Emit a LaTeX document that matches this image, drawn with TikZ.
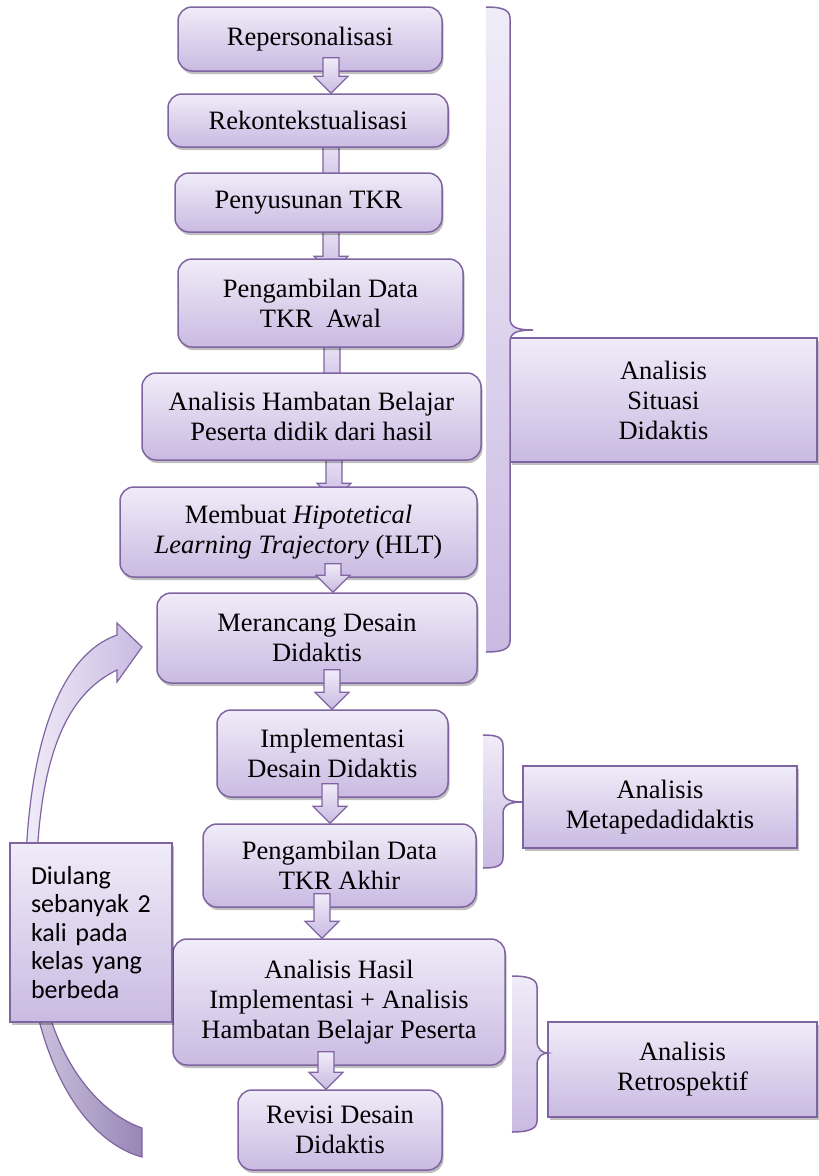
\documentclass[tikz,border=0pt]{standalone}
\usepackage{fontspec}
\setmainfont{Liberation Serif}
\newfontfamily\calibfont{Carlito}
\usepackage{tikz}
\usetikzlibrary{calc,shadows}
\definecolor{boxline}{RGB}{128,100,162}
\definecolor{boxtop}{RGB}{240,236,248}
\definecolor{boxbot}{RGB}{202,186,226}
\definecolor{loopleft}{RGB}{208,200,224}
\definecolor{loopright}{RGB}{152,134,182}
\pgfdeclarelayer{back}
\pgfsetlayers{back,main}

\tikzset{
  procbox/.style={draw=boxline, line width=1.5pt, rounded corners=14pt,
    top color=boxtop, bottom color=boxbot, align=center, inner sep=2pt,
    font=\fontsize{26.5}{30}\selectfont,
    drop shadow={shadow xshift=1.5pt, shadow yshift=-3pt, opacity=0.25, fill=black}},
  phasebox/.style={procbox, sharp corners},
  notebox/.style={phasebox, align=left, font=\calibfont\fontsize{26}{28.5}\selectfont},
  blockarrow/.style={draw=boxline, line width=1.2pt, line join=miter,
    top color=boxtop, bottom color=boxbot},
  bracefill/.style={top color=boxtop, bottom color=boxbot},
  braceline/.style={draw=boxline, line width=1.5pt},
}

% block arrow from one box down to the next: [tip below top of next box], from, to, x
\newcommand{\flowarrow}[4][0]{%
  \path[blockarrow] let \p1=(#2.south), \p2=(#3.north) in
    (#4pt-8pt,\y1+14pt) -- (#4pt+8pt,\y1+14pt) -- (#4pt+8pt,\y2-#1pt+17pt)
    -- (#4pt+17pt,\y2-#1pt+17pt) -- (#4pt,\y2-#1pt) -- (#4pt-17pt,\y2-#1pt+17pt)
    -- (#4pt-8pt,\y2-#1pt+17pt) -- cycle;}

% curly brace: x left, x line, x tip, y top, y tip, y bottom
\newcommand{\sidebrace}[6]{%
  \shade[bracefill] (#1,#4) .. controls (#1+14,#4) and (#2,#4+2) .. (#2,#4+11)
    -- (#2,#5-12) .. controls (#2,#5-3) and (#2+6,#5) .. (#3,#5)
    .. controls (#2+6,#5) and (#2,#5+3) .. (#2,#5+12)
    -- (#2,#6-11) .. controls (#2,#6-2) and (#1+14,#6) .. (#1,#6) -- cycle;
  \draw[braceline] (#1,#4) .. controls (#1+14,#4) and (#2,#4+2) .. (#2,#4+11)
    -- (#2,#5-12) .. controls (#2,#5-3) and (#2+6,#5) .. (#3,#5)
    .. controls (#2+6,#5) and (#2,#5+3) .. (#2,#5+12)
    -- (#2,#6-11) .. controls (#2,#6-2) and (#1+14,#6) .. (#1,#6);}

\begin{document}
\begin{tikzpicture}[x=1pt, y=-1pt]
\useasboundingbox (0,0) rectangle (819,1176);

\node[procbox, minimum width=264pt, minimum height=64pt] (rep) at (310,39) {Repersonalisasi};
\node[procbox, minimum width=280pt, minimum height=53pt] (rek) at (308,120.5) {Rekontekstualisasi};
\node[procbox, minimum width=267pt, minimum height=59pt] (tkr) at (308.5,202.5) {Penyusunan TKR};
\node[procbox, minimum width=285pt, minimum height=88pt] (awal) at (320.5,303) {Pengambilan Data\\TKR\ \ Awal};
\node[procbox, minimum width=339pt, minimum height=87pt] (hamb) at (311.5,416.5) {Analisis Hambatan Belajar\\Peserta didik dari hasil};
\node[procbox, minimum width=357pt, minimum height=90pt] (hlt) at (298.5,532) {Membuat \textit{Hipotetical}\\\textit{Learning Trajectory} (HLT)};
\node[procbox, minimum width=320pt, minimum height=90pt] (desain) at (317,638) {Merancang Desain\\Didaktis};
\node[procbox, minimum width=231pt, minimum height=87pt] (impl) at (332.5,753.5) {Implementasi\\Desain Didaktis};
\node[procbox, minimum width=273pt, minimum height=83pt] (akhir) at (339.5,865.5) {Pengambilan Data\\TKR Akhir};
\node[procbox, minimum width=332pt, minimum height=126pt] (hasil) at (339,1002) {Analisis Hasil\\Implementasi + Analisis\\Hambatan Belajar Peserta};
\node[procbox, minimum width=204pt, minimum height=80pt] (revisi) at (340,1130) {Revisi Desain\\Didaktis};

\node[phasebox, minimum width=307pt, minimum height=124pt] (situasi) at (663.5,400) {Analisis\\Situasi\\Didaktis};
\node[phasebox, minimum width=274pt, minimum height=82pt] (meta) at (660,807) {Analisis\\Metapedadidaktis};
\node[phasebox, minimum width=269pt, minimum height=95pt] (retro) at (682.5,1069.5) {Analisis\\Retrospektif};

\node[notebox, text width=120pt, inner xsep=21pt, minimum height=179pt] (ulang) at (91,932.5) {Diulang\\sebanyak 2\\kali pada\\kelas yang\\berbeda};

\flowarrow{rep}{rek}{331}
\flowarrow{hlt}{desain}{333}
\flowarrow{desain}{impl}{332}
\flowarrow{impl}{akhir}{330}
\flowarrow{akhir}{hasil}{322}
\flowarrow{hasil}{revisi}{326}

\begin{pgfonlayer}{back}
\fill[white] (0,0) rectangle (819,1176);
\flowarrow[22]{rek}{tkr}{331}
\flowarrow[15]{tkr}{awal}{331}
\flowarrow[22]{awal}{hamb}{332}
\flowarrow[14]{hamb}{hlt}{334}
\shadedraw[left color=loopleft, right color=loopright, draw=boxline, line width=1.2pt]
  (25,900) .. controls (25,1050) and (80,1140) .. (142,1157) -- (142,1128)
  .. controls (90,1110) and (40,1040) .. (38,940) -- cycle;
\shadedraw[left color=boxtop, right color=boxbot, draw=boxline, line width=1.2pt, line join=miter]
  (117,635) .. controls (60,655) and (25,745) .. (25,900) -- (36,900)
  .. controls (36,760) and (65,695) .. (117,670) -- (117,682) -- (142,647) -- (117,623) -- cycle;
\end{pgfonlayer}

\sidebrace{486}{510}{533}{7}{330}{652}
\sidebrace{483}{503}{523}{735}{802}{868}
\sidebrace{512}{537}{548}{976}{1053}{1132}
\end{tikzpicture}
\end{document}
